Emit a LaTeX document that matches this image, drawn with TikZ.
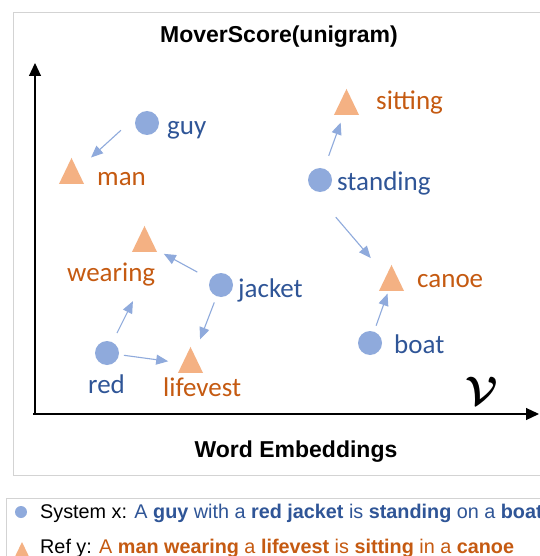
\documentclass[tikz,border=0pt]{standalone}
\usepackage{amsmath}
\usepackage{fontspec}
\setmainfont{Carlito}
\newfontfamily\arialfont{Liberation Sans}
\usetikzlibrary{positioning,shapes.geometric,arrows.meta}

\definecolor{dotblue}{HTML}{8FAADC}
\definecolor{triorange}{HTML}{F4B183}
\definecolor{sysblue}{HTML}{2F5597}
\definecolor{reforange}{HTML}{C55A11}
\definecolor{framegray}{HTML}{D3D3D3}

\begin{document}
\begin{tikzpicture}[x=1pt,y=-1pt,
    sysdot/.style={circle,fill=dotblue,inner sep=0pt,minimum size=24pt},
    reftri/.style={regular polygon,regular polygon sides=3,fill=triorange,inner sep=0pt,minimum size=28.9pt,yscale=1.2},
    syslabel/.style={anchor=base west,inner sep=0pt,text=sysblue,font=\fontsize{27}{30}\selectfont},
    reflabel/.style={anchor=base west,inner sep=0pt,text=reforange,font=\fontsize{27}{30}\selectfont},
    wordmove/.style={draw=dotblue,line width=1.1pt,-{Triangle[length=12pt,width=10pt]}},
    axisline/.style={line width=1.2pt,-{Triangle[length=13pt,width=12pt]}},
    heading/.style={inner sep=0pt,font=\arialfont\bfseries\fontsize{23}{26}\selectfont},
    legendline/.style={anchor=base west,inner sep=0pt,font=\arialfont\fontsize{19.8}{23}\selectfont}]
  \useasboundingbox (0,0) rectangle (539,556);
  \fill[white] (0,0) rectangle (539,556);

  % frames
  \draw[framegray,line width=1pt] (13,13) rectangle (560,475);
  \draw[framegray,line width=1pt] (6,498) rectangle (560,570);

  % axes
  \coordinate (origin) at (35,414);
  \coordinate (ytip) at (35,63);
  \coordinate (xfoot) at (33,414);
  \coordinate (xtip) at (539,414);
  \draw[axisline] (origin) -- (ytip);
  \draw[axisline] (xfoot) -- (xtip);

  \node[heading] (title) at (279,37) {MoverScore(unigram)};
  \node[heading] (xname) at (296,452) {Word Embeddings};
  \node[inner sep=0pt,scale=1.6] (vocab) at (482,391) {\Huge$\boldsymbol{\mathcal{V}}$};

  % system words
  \node[sysdot] (guy) at (147,123) {};
  \node[sysdot] (standing) at (320,180) {};
  \node[sysdot] (jacket) at (221,285) {};
  \node[sysdot] (red) at (107,353) {};
  \node[sysdot] (boat) at (370,343) {};

  % reference words
  \node[reftri] (man) at (71.5,175.3) {};
  \node[reftri] (sitting) at (346.5,106.3) {};
  \node[reftri] (wearing) at (144.5,243.3) {};
  \node[reftri] (lifevest) at (190.5,364.3) {};
  \node[reftri] (canoe) at (391.5,282.3) {};

  % labels
  \node[syslabel] (guy lab) at (167,135) {guy};
  \node[syslabel] (standing lab) at (337,190) {standing};
  \node[syslabel] (jacket lab) at (238,297) {jacket};
  \node[syslabel] (red lab) at (88,393) {red};
  \node[syslabel] (boat lab) at (394,353) {boat};
  \node[reflabel] (man lab) at (97,185) {man};
  \node[reflabel] (sitting lab) at (376,110) {sitting};
  \node[reflabel] (wearing lab) at (67,281) {wearing};
  \node[reflabel] (lifevest lab) at (163,396) {lifevest};
  \node[reflabel] (canoe lab) at (417,287) {canoe};

  % moves
  \draw[wordmove,shorten <=23.6pt,shorten >=26.4pt] (guy.north west) -- (man.center);
  \draw[wordmove,shorten <=25.7pt,shorten >=17.3pt] (standing.center) -- (sitting.center);
  \draw[wordmove,shorten <=37.5pt,shorten >=31.9pt] (standing.south west) -- (canoe.center);
  \draw[wordmove,shorten <=18.4pt,shorten >=12pt] (boat.center) -- (canoe.center);
  \draw[wordmove,shorten <=27pt,shorten >=22pt] (jacket.center) -- (wearing.center);
  \draw[wordmove,shorten <=18.7pt,shorten >=26.7pt] (jacket.center) -- (lifevest.center);
  \draw[wordmove,shorten <=22.3pt,shorten >=54.7pt] (red.center) -- (wearing.corner 3);
  \draw[wordmove,shorten <=17.1pt,shorten >=22.5pt] (red.center) -- (lifevest.center);

  % legend
  \node[sysdot,minimum size=12pt] (sysmark) at (21,512) {};
  \node[reftri,minimum size=17.3pt] (refmark) at (22,552.4) {};
  \node[legendline] (sysline) at (40,518) {System x: \textcolor{sysblue}{A \textbf{guy} with a \textbf{red jacket} is \textbf{standing} on a \textbf{boat}}};
  \node[legendline] (refline) at (40,553) {Ref y: \textcolor{reforange}{A \textbf{man wearing} a \textbf{lifevest} is \textbf{sitting} in a \textbf{canoe}}};
\end{tikzpicture}
\end{document}
